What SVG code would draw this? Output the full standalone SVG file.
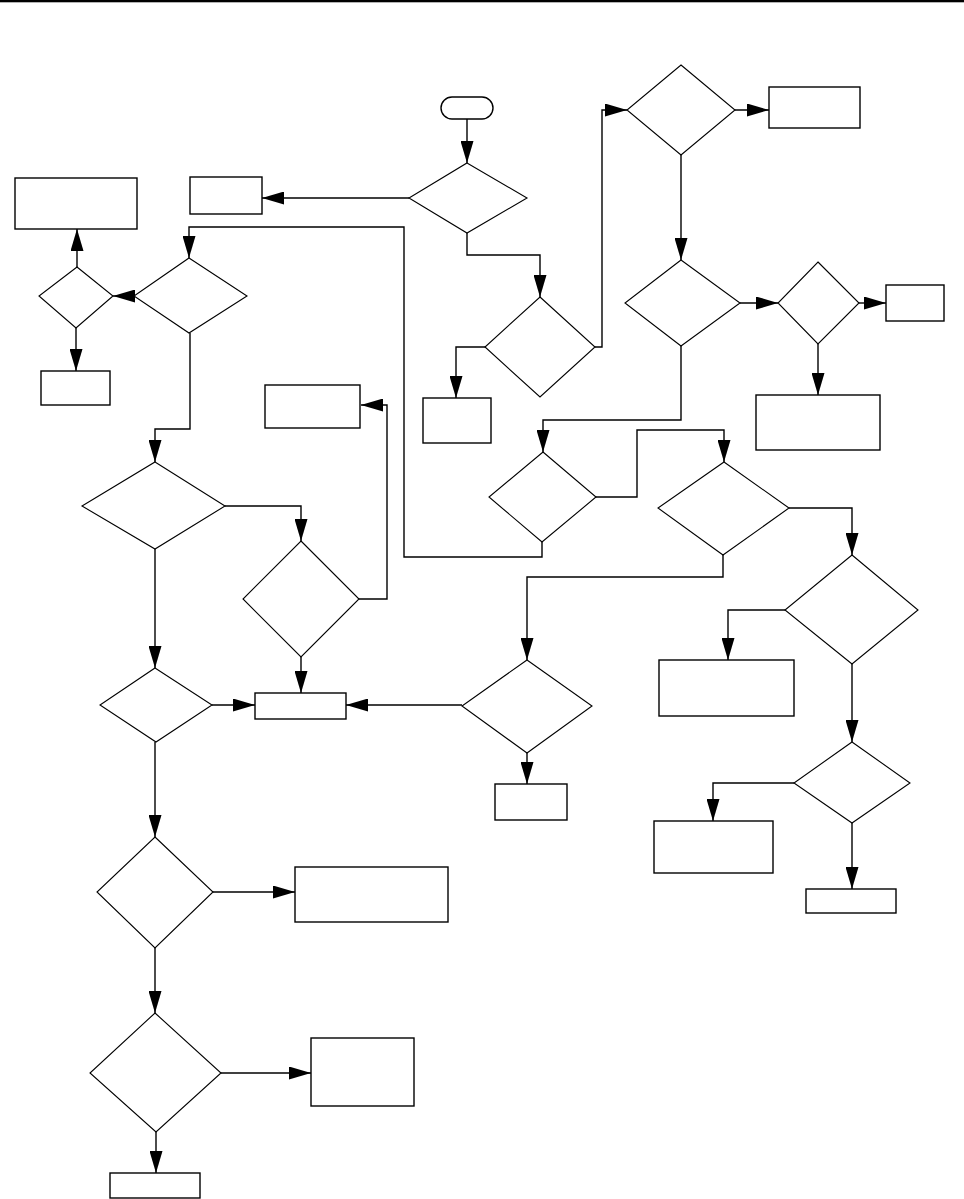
<svg xmlns="http://www.w3.org/2000/svg" width="964" height="1199" viewBox="0 0 964 1199">
<style>
.n{fill:#fff;stroke:#000;stroke-width:1.4}
.d{fill:#fff;stroke:#000;stroke-width:1.1}
.c{fill:none;stroke:#000;stroke-width:1.4;marker-end:url(#ah)}
</style>
<defs>
<marker id="ah" markerUnits="userSpaceOnUse" markerWidth="22" markerHeight="13" refX="22" refY="6.5" orient="auto">
<path d="M0,0 L22,6.5 L0,13 z" fill="#000"/>
</marker>
</defs>
<rect x="0" y="0" width="964" height="2.3" fill="#000"/>
<g id="connectors">
<path class="c" d="M467,119 V163"/>
<path class="c" d="M409,198 H262"/>
<path class="c" d="M467,233 V255 H540 V297"/>
<path class="c" d="M485,347 H456 V398"/>
<path class="c" d="M595,347 H602 V110 H627"/>
<path class="c" d="M735,110 H769"/>
<path class="c" d="M681,155 V260"/>
<path class="c" d="M740,303 H778"/>
<path class="c" d="M859,303 H886"/>
<path class="c" d="M818,344 V395"/>
<path class="c" d="M681,346 V420 H543 V452"/>
<path class="c" d="M596,497 H637 V430 H724 V462"/>
<path class="c" d="M542,542 V557 H404 V227 H189 V258"/>
<path class="c" d="M134,296 H113"/>
<path class="c" d="M77,267 V229"/>
<path class="c" d="M76,328 V371"/>
<path class="c" d="M190,333 V429 H155 V462"/>
<path class="c" d="M225,506 H301 V541"/>
<path class="c" d="M359,599 H387 V405 H361"/>
<path class="c" d="M301,657 V693"/>
<path class="c" d="M155,549 V668"/>
<path class="c" d="M212,705 H255"/>
<path class="c" d="M462,705 H346"/>
<path class="c" d="M723,555 V577 H527 V660"/>
<path class="c" d="M527,753 V784"/>
<path class="c" d="M789,508 H852 V555"/>
<path class="c" d="M785,610 H728 V660"/>
<path class="c" d="M852,664 V742"/>
<path class="c" d="M794,783 H713 V821"/>
<path class="c" d="M852,823 V889"/>
<path class="c" d="M155,742 V837"/>
<path class="c" d="M213,892 H295"/>
<path class="c" d="M155,948 V1013"/>
<path class="c" d="M221,1073 H311"/>
<path class="c" d="M156,1132 V1173"/>
</g>
<g id="start"><rect class="n" x="441" y="97" width="52" height="22" rx="11"/></g>
<g id="d1"><polygon class="d" points="467,163 527,198 467,233 409,198"/></g>
<g id="b1"><rect class="n" x="190" y="177" width="72" height="37"/></g>
<g id="d2"><polygon class="d" points="540,297 595,347 540,397 485,347"/></g>
<g id="b2"><rect class="n" x="423" y="398" width="68" height="45"/></g>
<g id="d3"><polygon class="d" points="681,65 735,110 681,155 627,110"/></g>
<g id="b3"><rect class="n" x="769" y="87" width="91" height="41"/></g>
<g id="d4"><polygon class="d" points="681,260 740,303 681,346 625,303"/></g>
<g id="d5"><polygon class="d" points="818,262 859,303 818,344 778,303"/></g>
<g id="b4"><rect class="n" x="886" y="285" width="58" height="36"/></g>
<g id="b5"><rect class="n" x="756" y="395" width="124" height="55"/></g>
<g id="d6"><polygon class="d" points="543,452 596,497 542,542 489,497"/></g>
<g id="d7"><polygon class="d" points="724,462 789,508 723,555 658,508"/></g>
<g id="d8"><polygon class="d" points="189,258 247,296 189,333 134,296"/></g>
<g id="d9"><polygon class="d" points="77,267 113,296 76,328 39,296"/></g>
<g id="b6"><rect class="n" x="15" y="178" width="122" height="51"/></g>
<g id="b7"><rect class="n" x="41" y="371" width="69" height="34"/></g>
<g id="b8"><rect class="n" x="265" y="385" width="95" height="43"/></g>
<g id="d10"><polygon class="d" points="155,462 225,506 155,549 82,506"/></g>
<g id="d11"><polygon class="d" points="301,541 359,599 301,657 243,599"/></g>
<g id="b9"><rect class="n" x="255" y="693" width="91" height="26"/></g>
<g id="d12"><polygon class="d" points="155,668 212,705 156,742 100,705"/></g>
<g id="d13"><polygon class="d" points="527,660 592,706 527,753 462,706"/></g>
<g id="b10"><rect class="n" x="495" y="784" width="72" height="36"/></g>
<g id="d14"><polygon class="d" points="852,555 918,610 852,664 785,610"/></g>
<g id="b11"><rect class="n" x="659" y="660" width="135" height="56"/></g>
<g id="d15"><polygon class="d" points="852,742 910,783 852,823 794,783"/></g>
<g id="b12"><rect class="n" x="654" y="821" width="119" height="52"/></g>
<g id="b13"><rect class="n" x="806" y="889" width="90" height="24"/></g>
<g id="d16"><polygon class="d" points="155,837 213,892 155,948 97,892"/></g>
<g id="b14"><rect class="n" x="295" y="867" width="153" height="55"/></g>
<g id="d17"><polygon class="d" points="155,1013 221,1073 156,1132 90,1073"/></g>
<g id="b15"><rect class="n" x="311" y="1038" width="103" height="68"/></g>
<g id="b16"><rect class="n" x="110" y="1173" width="90" height="25"/></g>
</svg>
